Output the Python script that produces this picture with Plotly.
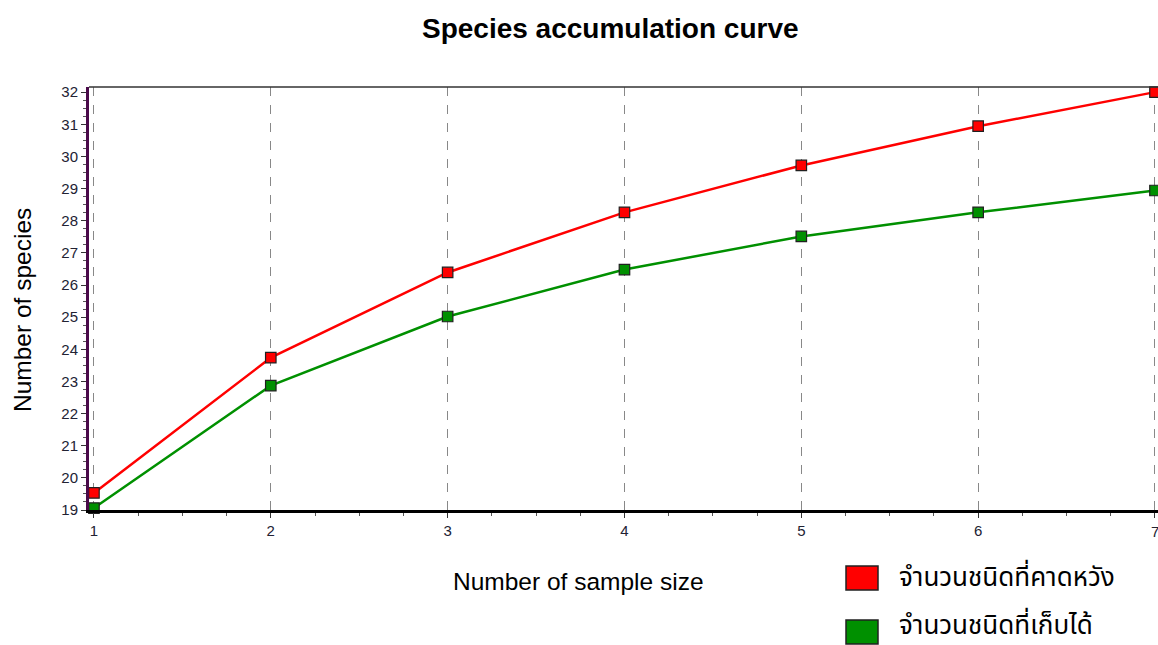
import plotly.graph_objects as go

x_vals = [1, 2, 3, 4, 5, 6, 7]
expected = [19.53, 23.74, 26.39, 28.26, 29.72, 30.94, 32.0]
observed = [19.06, 22.87, 25.02, 26.48, 27.51, 28.26, 28.94]
series_names = ["จำนวนชนิดที่คาดหวัง", "จำนวนชนิดที่เก็บได้"]
series_colors = ["#FF0000", "#009000"]
y_ticks = list(range(19, 33))

L, R, T, B = 89, 0, 87, 135
W, H = 1158, 645
PW, PH = W - L - R, H - T - B

def px_x(p):
    return (p - L) / PW

def px_y(p):
    return 1 - (p - T) / PH

fig = go.Figure()
for ys, name, col in zip([expected, observed], series_names, series_colors):
    fig.add_trace(go.Scatter(
        x=x_vals, y=ys, mode="lines+markers", name=name,
        line=dict(color=col, width=2.5),
        marker=dict(symbol="square", size=10.5, color=col,
                    line=dict(color="#202020", width=1.2)),
        cliponaxis=False, showlegend=False,
    ))

tickfont = dict(family="Liberation Sans, Arial", size=15, color="#222233")
fig.update_layout(
    width=W, height=H,
    margin=dict(l=L, r=R, t=T, b=B),
    paper_bgcolor="white", plot_bgcolor="white",
    title=dict(text="<b>Species accumulation curve</b>", x=0.527, xanchor="center",
               y=0.957, yanchor="middle",
               font=dict(family="Liberation Sans, Arial", size=28, color="black")),
    xaxis=dict(range=[0.972, 7.017], tickvals=x_vals, ticks="outside", ticklen=5,
               tickcolor="#333333", showgrid=True, gridcolor="#888888",
               griddash="dash", gridwidth=1, zeroline=False,
               showline=True, linecolor="black", linewidth=3,
               tickfont=tickfont,
               minor=dict(dtick=0.25, ticks="outside", ticklen=3, tickcolor="#555555")),
    yaxis=dict(range=[19, 32.16], tickvals=y_ticks, ticks="outside", ticklen=5,
               tickcolor="#333333", showgrid=False, zeroline=False,
               showline=True, linecolor="#4A0A4A", linewidth=3,
               tickfont=tickfont,
               minor=dict(dtick=0.25, ticks="outside", ticklen=3, tickcolor="#555555")),
)

# last x tick label (sits on the page edge)
fig.add_annotation(xref="x", yref="paper", x=7, y=px_y(531), text=str(x_vals[-1]),
                   showarrow=False, xanchor="center", yanchor="middle", font=tickfont)

# axis titles
title_font = dict(family="Liberation Sans, Arial", size=24.5, color="black")
fig.add_annotation(xref="paper", yref="paper", x=px_x(578), y=px_y(581),
                   text="Number of sample size", showarrow=False,
                   xanchor="center", yanchor="middle", font=title_font)
fig.add_annotation(xref="paper", yref="paper", x=px_x(22), y=px_y(310),
                   text="Number of species", showarrow=False, textangle=-90,
                   xanchor="center", yanchor="middle", font=title_font)

# top border
fig.add_shape(type="line", xref="paper", yref="paper", x0=0, x1=1, y0=1, y1=1,
              line=dict(color="#333333", width=1.5))

# custom legend
legend_y = [578, 632]
text_y = [578, 626]
for name, col, py, ty in zip(series_names, series_colors, legend_y, text_y):
    yc = px_y(py)
    h = 12 / PH
    fig.add_shape(type="rect", xref="paper", yref="paper",
                  x0=px_x(846), x1=px_x(878), y0=yc - h, y1=yc + h,
                  fillcolor=col, line=dict(color="#202020", width=1.5))
    fig.add_annotation(xref="paper", yref="paper", x=px_x(897), y=px_y(ty),
                       text=name, showarrow=False, xanchor="left", yanchor="middle",
                       font=dict(family="Noto Sans Thai, Tahoma, Leelawadee, sans-serif",
                                 size=26, color="black"))

fig.write_html("out.html")
